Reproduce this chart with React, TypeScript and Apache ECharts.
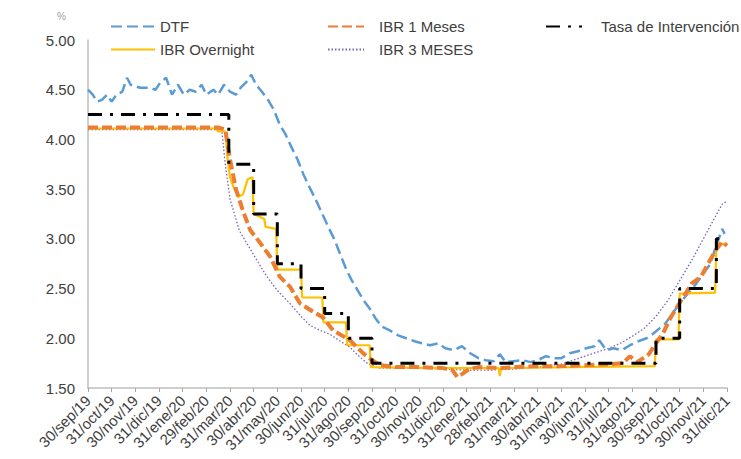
import React, { useEffect, useRef } from "react";
import * as echarts from "echarts";

const xLabels = [
  "30/sep/19", "31/oct/19", "30/nov/19", "31/dic/19", "31/ene/20", "29/feb/20", "31/mar/20",
  "30/abr/20", "31/may/20", "30/jun/20", "31/jul/20", "31/ago/20", "30/sep/20", "31/oct/20",
  "30/nov/20", "31/dic/20", "31/ene/21", "28/feb/21", "31/mar/21", "30/abr/21", "31/may/21",
  "30/jun/21", "31/jul/21", "31/ago/21", "30/sep/21", "31/oct/21", "30/nov/21", "31/dic/21",
];

// x = position in months since 30/sep/19, y = rate (%)
const dtfData: [number, number][] = [
  [0, 4.5], [0.2, 4.45], [0.38, 4.38], [0.6, 4.4], [0.8, 4.45], [1.0, 4.38], [1.2, 4.45],
  [1.45, 4.48], [1.65, 4.62], [1.8, 4.55], [2.2, 4.52], [2.6, 4.52], [2.85, 4.5], [3.05, 4.57],
  [3.3, 4.62], [3.55, 4.45], [3.8, 4.55], [4.05, 4.45], [4.3, 4.5], [4.55, 4.48], [4.8, 4.55],
  [5.0, 4.45], [5.3, 4.5], [5.5, 4.45], [5.75, 4.55], [6.0, 4.48], [6.25, 4.45], [6.45, 4.52],
  [6.7, 4.58], [6.9, 4.65], [7.1, 4.55], [7.35, 4.48], [7.6, 4.4], [7.85, 4.3], [8.1, 4.15],
  [8.35, 4.05], [8.6, 3.92], [8.85, 3.8], [9.1, 3.65], [9.4, 3.5], [9.65, 3.38], [9.9, 3.25],
  [10.15, 3.12], [10.4, 3.0], [10.65, 2.85], [10.9, 2.7], [11.15, 2.58], [11.4, 2.48],
  [11.65, 2.38], [11.9, 2.3], [12.15, 2.2], [12.4, 2.12], [12.75, 2.08], [13.1, 2.03],
  [13.45, 2.0], [13.8, 1.97], [14.1, 1.95], [14.45, 1.93], [14.8, 1.95], [15.1, 1.9],
  [15.45, 1.88], [15.8, 1.92], [16.15, 1.85], [16.5, 1.8], [16.8, 1.78], [17.15, 1.77],
  [17.4, 1.84], [17.65, 1.76], [18.0, 1.77], [18.35, 1.78], [18.7, 1.76], [19.0, 1.78],
  [19.35, 1.82], [19.7, 1.8], [20.0, 1.8], [20.35, 1.85], [20.7, 1.87], [21.05, 1.9],
  [21.4, 1.92], [21.6, 1.98], [21.9, 1.88], [22.2, 1.9], [22.55, 1.88], [22.9, 1.93],
  [23.25, 1.97], [23.6, 2.0], [23.9, 2.05], [24.15, 2.1], [24.4, 2.15], [24.7, 2.25],
  [25.0, 2.35], [25.35, 2.45], [25.7, 2.55], [26.0, 2.65], [26.3, 2.75], [26.5, 2.9],
  [26.8, 3.1], [26.9, 3.05],
];

const ibr1Data: [number, number][] = [
  [0, 4.12], [2, 4.12], [4, 4.12], [5.5, 4.12], [5.8, 4.1], [6.0, 3.8], [6.25, 3.5],
  [6.55, 3.28], [6.85, 3.09], [7.27, 2.96], [7.7, 2.82], [8.1, 2.62], [8.53, 2.52],
  [8.96, 2.35], [9.5, 2.27], [9.93, 2.21], [10.35, 2.08], [11.07, 1.98], [11.62, 1.85],
  [12.0, 1.78], [12.34, 1.73], [13, 1.71], [14, 1.71], [15, 1.7], [15.4, 1.68], [15.6, 1.61],
  [15.8, 1.64], [16.1, 1.69], [16.5, 1.71], [17.5, 1.7], [18, 1.71], [19, 1.72], [20, 1.72],
  [21, 1.73], [22, 1.74], [22.6, 1.75], [22.9, 1.82], [23.2, 1.76], [23.7, 1.84], [24.0, 1.95],
  [24.3, 2.05], [24.6, 2.2], [24.9, 2.32], [25.2, 2.43], [25.5, 2.55], [25.9, 2.62],
  [26.2, 2.75], [26.5, 2.88], [26.8, 2.97], [27, 2.93],
];

const ibr3Data: [number, number][] = [
  [0, 4.1], [5.65, 4.1], [5.8, 3.75], [6.0, 3.4], [6.4, 3.08], [6.85, 2.9], [7.2, 2.76],
  [7.56, 2.62], [8.0, 2.48], [8.53, 2.35], [9.0, 2.22], [9.38, 2.13], [9.8, 2.08],
  [10.22, 2.04], [10.6, 1.98], [11.07, 1.91], [11.4, 1.83], [11.79, 1.75], [12.3, 1.7],
  [13, 1.7], [14, 1.7], [15, 1.69], [16, 1.68], [17, 1.68], [18, 1.69], [19, 1.71], [20, 1.74],
  [20.5, 1.78], [21, 1.82], [21.5, 1.86], [22, 1.9], [22.5, 1.95], [23, 2.02], [23.5, 2.1],
  [24, 2.22], [24.5, 2.38], [25, 2.58], [25.5, 2.78], [26, 3.0], [26.5, 3.22], [26.8, 3.35],
  [27, 3.38],
];

const overnightData: [number, number][] = [
  [0, 4.11], [5.4, 4.11], [5.5, 4.08], [5.8, 4.08], [5.9, 3.8], [6.0, 3.62], [6.15, 3.52],
  [6.35, 3.42], [6.55, 3.45], [6.75, 3.6], [6.95, 3.62], [7.0, 3.25], [7.45, 3.2], [7.5, 3.12],
  [7.95, 3.1], [8.0, 2.69], [9.0, 2.69], [9.05, 2.41], [9.9, 2.41], [9.95, 2.16], [10.9, 2.16],
  [10.95, 1.93], [11.9, 1.93], [11.95, 1.71], [15, 1.7], [17.35, 1.7], [17.4, 1.62],
  [17.45, 1.7], [23.95, 1.72], [24.0, 1.99], [24.95, 1.99], [25.0, 2.45], [26.5, 2.46],
  [26.55, 2.95], [27, 2.95],
];

const tasaData: [number, number][] = [
  [0, 4.25], [5.95, 3.75], [7.0, 3.25], [8.0, 2.75], [9.0, 2.5], [10.0, 2.25], [11.0, 2.0],
  [12.0, 1.75], [24.0, 2.0], [25.0, 2.5], [26.55, 3.0], [27, 3.0],
];

const FONT = "'Liberation Sans', Arial, sans-serif";
const TXT = "#404040";

export default function App() {
  const ref = useRef<HTMLDivElement>(null);
  useEffect(() => {
    if (!ref.current) return;
    const chart = echarts.init(ref.current, null, { renderer: "svg" });
    const textStyle = { fontFamily: FONT, fontSize: 15, color: TXT };
    const legendBase = {
      orient: "vertical" as const,
      itemHeight: 14,
      itemGap: 8,
      itemStyle: { opacity: 0 },
    };
    chart.setOption({
      animation: false,
      backgroundColor: "#ffffff",
      textStyle: { fontFamily: FONT },
      grid: { left: 88, right: 14, top: 40, bottom: 71 },
      legend: [
        { ...legendBase, data: ["DTF", "IBR Overnight"], left: 105, top: 14, itemWidth: 44, textStyle: { ...textStyle, padding: [0, 0, 0, 0] } },
        { ...legendBase, data: ["IBR 1 Meses", "IBR 3 MESES"], left: 322, top: 14, itemWidth: 36, textStyle: { ...textStyle, padding: [0, 0, 0, 10] } },
        { ...legendBase, data: ["Tasa de Intervención"], left: 540, top: 14, itemWidth: 36, textStyle: { ...textStyle, padding: [0, 0, 0, 14] } },
      ],
      graphic: [
        { type: "text", left: 57, top: 11, style: { text: "%", fontSize: 10, fill: "#a0a0a0", fontFamily: FONT } },
      ],
      xAxis: {
        type: "value",
        min: 0,
        max: 27,
        interval: 1,
        splitLine: { show: false },
        axisLine: { show: true, lineStyle: { color: "#bfbfbf", width: 1.5 } },
        axisTick: { show: true, length: 4, lineStyle: { color: "#a6a6a6" } },
        axisLabel: {
          rotate: 45,
          fontSize: 15,
          color: TXT,
          fontFamily: FONT,
          margin: 10,
          formatter: (v: number) => xLabels[Math.round(v)] ?? "",
        },
      },
      yAxis: {
        type: "value",
        min: 1.5,
        max: 5,
        interval: 0.5,
        splitLine: { show: false },
        axisLine: { show: true, lineStyle: { color: "#bfbfbf", width: 1.5 } },
        axisTick: { show: false },
        axisLabel: {
          fontSize: 15,
          color: TXT,
          fontFamily: FONT,
          margin: 13,
          formatter: (v: number) => v.toFixed(2),
        },
      },
      series: [
        {
          name: "DTF",
          type: "line",
          data: dtfData,
          symbol: "none",
          lineStyle: { color: "#5B9BD5", width: 2.5, type: [11, 5] },
          itemStyle: { color: "#5B9BD5" },
        },
        {
          name: "IBR 3 MESES",
          type: "line",
          data: ibr3Data,
          symbol: "none",
          lineStyle: { color: "#7a62b8", width: 1.3, type: [1.5, 2] },
          itemStyle: { color: "#7a62b8" },
        },
        {
          name: "IBR Overnight",
          type: "line",
          data: overnightData,
          symbol: "none",
          lineStyle: { color: "#FFC000", width: 2.2 },
          itemStyle: { color: "#FFC000" },
        },
        {
          name: "IBR 1 Meses",
          type: "line",
          data: ibr1Data,
          symbol: "none",
          lineStyle: { color: "#ED7D31", width: 4, type: [10, 4] },
          itemStyle: { color: "#ED7D31" },
        },
        {
          name: "Tasa de Intervención",
          type: "line",
          step: "end",
          data: tasaData,
          symbol: "none",
          lineStyle: { color: "#000000", width: 3, type: [14, 8, 3, 8] },
          itemStyle: { color: "#000000" },
        },
      ],
    });
    return () => chart.dispose();
  }, []);
  return (
    <div
      ref={ref}
      style={{ position: "fixed", left: 0, top: 0, width: 741, height: 459, background: "#fff" }}
    />
  );
}
